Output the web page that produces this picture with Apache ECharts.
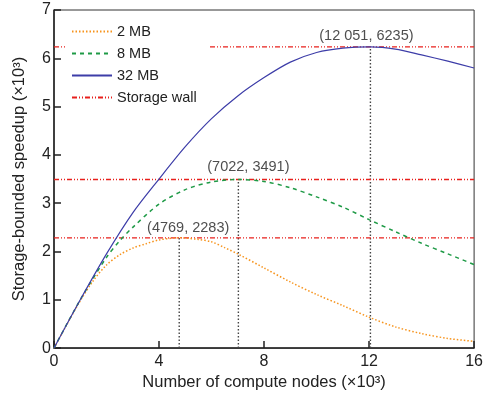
<!DOCTYPE html>
<html>
<head>
<meta charset="utf-8">
<script src="https://cdn.jsdelivr.net/npm/echarts@6/dist/echarts.min.js"></script>
<style>
  html, body { margin: 0; padding: 0; background: #fff; }
  #c { width: 486px; height: 396px; }
</style>
</head>
<body>
<div id="c"></div>
<script>
(() => {
  "use strict";
  // values, x and y both in thousands
  const MB2 = [[0, 0], [0.5, 0.5], [1, 0.98], [1.5, 1.4], [2, 1.72], [2.5, 1.93], [3, 2.07], [3.5, 2.16], [4, 2.24],
    [4.769, 2.283], [5.5, 2.25], [6, 2.2], [6.5, 2.08], [7, 1.95], [8, 1.66], [9, 1.37], [10, 1.11], [11, 0.88],
    [12, 0.64], [13, 0.44], [14, 0.3], [15, 0.2], [16, 0.14]];
  const MB8 = [[0, 0], [1, 1.0], [2, 1.88], [2.5, 2.22], [3, 2.5], [4, 2.98], [5, 3.28], [6, 3.44], [7.022, 3.491],
    [8, 3.45], [9, 3.32], [10, 3.13], [11, 2.92], [12, 2.66], [13, 2.41], [14, 2.17], [15, 1.95], [16, 1.73]];
  const MB32 = [[0, 0], [1, 1.0], [2, 1.95], [3, 2.8], [4, 3.5], [5, 4.17], [6, 4.75], [7, 5.22], [8, 5.6], [9, 5.92],
    [10, 6.12], [11, 6.21], [12.051, 6.235], [13, 6.19], [14, 6.07], [15, 5.94], [16, 5.8]];
  const PEAKS = [[4.769, 2.283], [7.022, 3.491], [12.051, 6.235]];
  const PEAK_LABELS = ["(4769, 2283)", "(7022, 3491)", "(12 051, 6235)"];
  const X_MAX = 16, Y_MAX = 7;

  const FONT = "'Liberation Sans', Arial, sans-serif";
  const WALL = "#e8201c";
  const LABEL_OFF = [[9, -2], [10, -5], [-4, -3]];
  const wall = (p, i) => ({
    id: "wall" + i, name: "Storage wall", type: "line", symbol: "none", silent: true, z: 2,
    data: [[0, p[1]], [X_MAX, p[1]]], color: WALL,
    itemStyle: { color: WALL }, lineStyle: { color: WALL, width: 1.3, type: [5, 2, 1, 2, 1, 2] },
  });
  const drop = (p, i) => ({
    id: "drop" + i, name: "drop" + i, type: "line", symbol: "none", silent: true, z: 1,
    data: [[p[0], 0], [p[0], p[1]]], color: "#444",
    lineStyle: { color: "#444", width: 1.4, type: [1.5, 2] },
  });
  const curve = (name, data, color, type, width) => ({
    name, type: "line", symbol: "none", smooth: 0.3, z: 3, data, color,
    lineStyle: { color, width, type },
  });

  const chart = echarts.init(document.getElementById("c"));
  chart.setOption({
    animation: false,
    textStyle: { fontFamily: FONT },
    grid: { left: 54, right: 8, top: 10, bottom: 45, show: true, borderColor: "#333", borderWidth: 1 },
    legend: {
      data: ["2 MB", "8 MB", "32 MB", "Storage wall"], orient: "vertical", left: 65, top: 22,
      itemWidth: 40, itemHeight: 14, itemGap: 7, padding: [2, 12, 2, 6], backgroundColor: "#fff",
      itemStyle: { opacity: 0 },
      textStyle: { fontSize: 14.5, color: "#222", fontFamily: FONT },
    },
    xAxis: {
      type: "value", min: 0, max: X_MAX, interval: 4,
      name: "Number of compute nodes (×10³)", nameLocation: "middle", nameGap: 22,
      nameTextStyle: { fontSize: 16.5, color: "#222" },
      axisLine: { lineStyle: { color: "#222", width: 1.5 } },
      axisTick: { inside: true, length: 7, lineStyle: { color: "#222", width: 1.5 } },
      axisLabel: { fontSize: 16, color: "#222", margin: 5 },
      splitLine: { show: false },
    },
    yAxis: {
      type: "value", min: 0, max: Y_MAX, interval: 1,
      name: "Storage-bounded speedup (×10³)", nameLocation: "middle", nameGap: 26,
      nameTextStyle: { fontSize: 16.5, color: "#222" },
      axisLine: { lineStyle: { color: "#222", width: 1.5 } },
      axisTick: { inside: true, length: 7, lineStyle: { color: "#222", width: 1.5 } },
      axisLabel: { fontSize: 16, color: "#222", margin: 3 },
      splitLine: { show: false },
    },
    series: [
      ...PEAKS.map(wall),
      ...PEAKS.map(drop),
      curve("2 MB", MB2, "#f7941d", [1.5, 2], 1.5),
      curve("8 MB", MB8, "#1e9a46", [4, 4], 1.5),
      curve("32 MB", MB32, "#3d3da8", "solid", 1.2),
      { name: "peaks", type: "scatter", symbolSize: 0, silent: true, z: 4,
        data: PEAKS.map((p, i) => ({
          value: p,
          label: { show: true, position: "top", distance: 0, offset: LABEL_OFF[i], formatter: PEAK_LABELS[i],
            fontSize: 14.5, color: "#222", fontFamily: FONT },
        })) },
    ],
  });
})();
</script>
</body>
</html>
